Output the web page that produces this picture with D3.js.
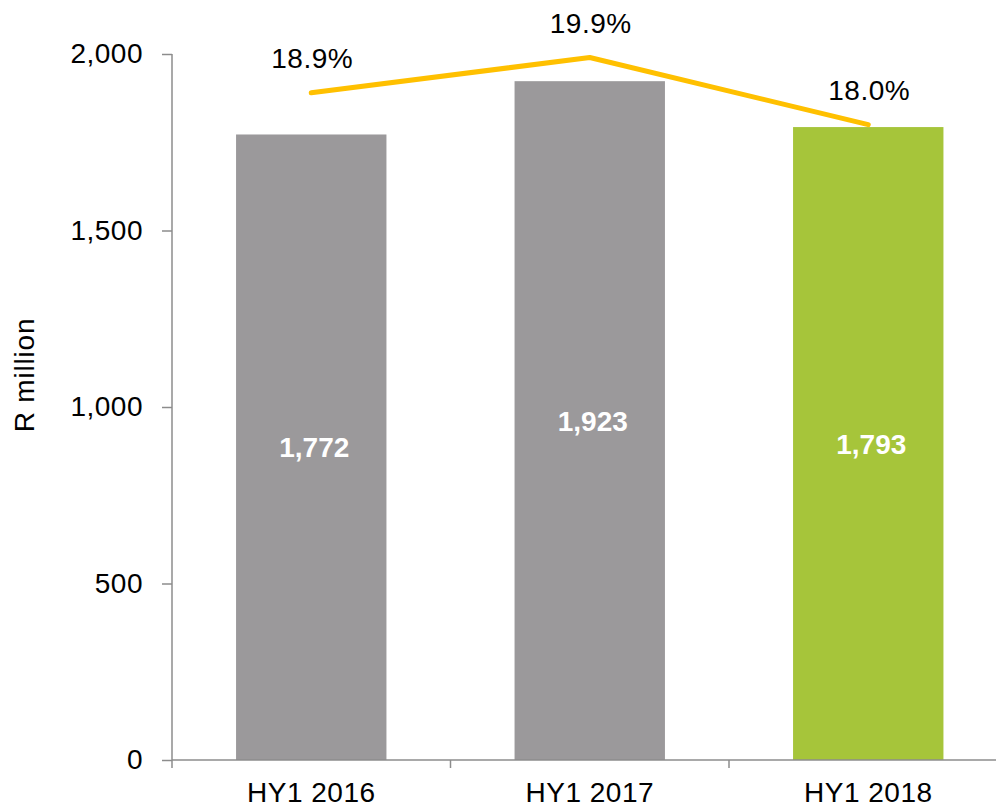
<!DOCTYPE html>
<html>
<head>
<meta charset="utf-8">
<script src="https://cdn.jsdelivr.net/npm/d3@7"></script>
<style>
  body { margin: 0; background: #fff; }
  svg { display: block; font-family: "Liberation Sans", Arial, sans-serif; }
</style>
</head>
<body>
<svg width="996" height="808"></svg>
<script>
const periods = ["HY1 2016", "HY1 2017", "HY1 2018"];
const profit = [1772, 1923, 1793];
const margin = [18.9, 19.9, 18.0];
const barColors = ["#9b999b", "#9b999b", "#a6c53a"];
const yTicks = [0, 500, 1000, 1500, 2000];

const svg = d3.select("svg");
const plotLeft = 172, plotTop = 54, plotBottom = 760;

const x = d3.scaleBand()
  .domain(periods)
  .range([plotLeft, plotLeft + 3 * 278.5])
  .paddingInner(0.46)
  .paddingOuter(0.23);

const y = d3.scaleLinear().domain([0, 2000]).range([plotBottom, plotTop]);
const y2 = d3.scaleLinear().domain([0, 20]).range([plotBottom, plotTop]);

const axisColor = "#8c8c8c";

// bars
svg.append("g").selectAll("rect")
  .data(periods)
  .join("rect")
  .attr("x", d => x(d))
  .attr("y", (d, i) => y(profit[i]))
  .attr("width", x.bandwidth())
  .attr("height", (d, i) => y(0) - y(profit[i]))
  .attr("fill", (d, i) => barColors[i]);

// bar value labels
svg.append("g").selectAll("text")
  .data(periods)
  .join("text")
  .attr("x", d => x(d) + x.bandwidth() / 2 + 3)
  .attr("y", (d, i) => (y(profit[i]) + y(0)) / 2)
  .attr("dy", "0.36em")
  .attr("text-anchor", "middle")
  .attr("fill", "#fff")
  .attr("font-weight", "bold")
  .attr("font-size", 28)
  .text((d, i) => d3.format(",")(profit[i]));

// y axis
const yAxis = svg.append("g")
  .attr("transform", `translate(${plotLeft},0)`)
  .call(d3.axisLeft(y).tickValues(yTicks).tickFormat(d3.format(",")).tickSize(10).tickPadding(19));
yAxis.select(".domain").attr("d", `M0,${plotTop}V${plotBottom + 8}`);
yAxis.selectAll("path, line").attr("stroke", axisColor).attr("stroke-width", 1.5);
yAxis.selectAll("text").attr("font-size", 28).attr("fill", "#000")
  .attr("font-family", "'Liberation Sans', Arial, sans-serif").attr("letter-spacing", 0.5);

// x axis
const xAxis = svg.append("g")
  .attr("transform", `translate(0,${plotBottom})`)
  .call(d3.axisBottom(x).tickSize(0).tickPadding(22));
xAxis.select(".domain").attr("d", `M${plotLeft},0H996`).attr("stroke", axisColor).attr("stroke-width", 1.5);
xAxis.selectAll("text").attr("font-size", 28).attr("fill", "#000")
  .attr("font-family", "'Liberation Sans', Arial, sans-serif").attr("letter-spacing", 0.5);
xAxis.selectAll(".sep")
  .data(periods.slice(1))
  .join("line")
  .attr("class", "sep")
  .attr("x1", d => x(d) - x.step() * x.paddingInner() / 2)
  .attr("x2", d => x(d) - x.step() * x.paddingInner() / 2)
  .attr("y1", 0).attr("y2", 8)
  .attr("stroke", axisColor).attr("stroke-width", 1.5);

// y axis title
svg.append("text")
  .attr("transform", `translate(34,375) rotate(-90)`)
  .attr("text-anchor", "middle")
  .attr("font-size", 28)
  .attr("letter-spacing", 0.8)
  .text("R million");

// margin line
const cx = d => x(d) + x.bandwidth() / 2;
svg.append("path")
  .datum(periods)
  .attr("fill", "none")
  .attr("stroke", "#ffc000")
  .attr("stroke-width", 5)
  .attr("stroke-linecap", "round")
  .attr("stroke-linejoin", "round")
  .attr("d", d3.line().x(d => cx(d)).y((d, i) => y2(margin[i])));

svg.append("g").selectAll("text")
  .data(periods)
  .join("text")
  .attr("x", d => cx(d) + 1)
  .attr("y", (d, i) => y2(margin[i]) - 25)
  .attr("text-anchor", "middle")
  .attr("font-size", 28)
  .attr("letter-spacing", 0.5)
  .text((d, i) => margin[i].toFixed(1) + "%");
</script>
</body>
</html>
